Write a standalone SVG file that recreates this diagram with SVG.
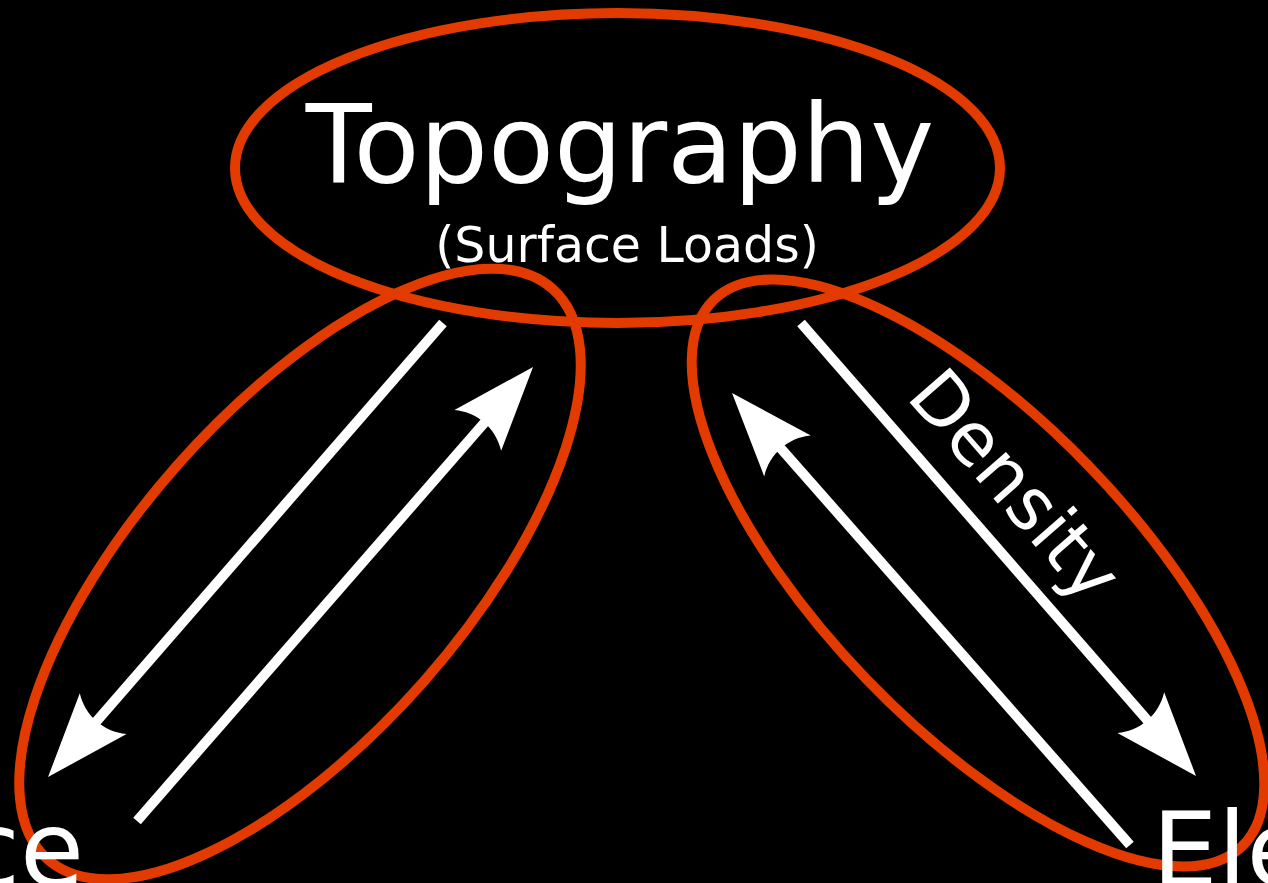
<svg xmlns="http://www.w3.org/2000/svg" width="1268" height="883" viewBox="0 0 1268 883">
<style>
.ring{fill:none;stroke:#e33a00;stroke-width:10}
.shaft{fill:none;stroke:#fff;stroke-width:10;stroke-linecap:butt;marker-end:url(#head)}
.t{fill:#fff;font-family:"DejaVu Sans","Noto Sans",sans-serif}
</style>
<defs>
<marker id="head" markerUnits="userSpaceOnUse" orient="auto" refX="0" refY="0" markerWidth="200" markerHeight="200" overflow="visible">
<path d="M72,0 L-12,-31 C1.5,-12.6 1.5,12.6 -12,31 Z" fill="#fff"/>
</marker>
</defs>
<rect width="1268" height="883" fill="#000"/>
<g id="connectors">
<line class="shaft" x1="443" y1="323" x2="95.3" y2="722.7"/>
<line class="shaft" x1="137" y1="821" x2="485.7" y2="421.3"/>
<line class="shaft" x1="801" y1="323" x2="1148.7" y2="721.7"/>
<line class="shaft" x1="1130" y1="845" x2="779.6" y2="447"/>
</g>
<g id="topography">
<ellipse class="ring" cx="617.5" cy="168" rx="382.5" ry="155"/>
<text class="t" x="620" y="182" font-size="108" text-anchor="middle">Topography</text>
<text class="t" x="627" y="262" font-size="49" text-anchor="middle">(Surface Loads)</text>
</g>
<g id="left-loop">
<ellipse class="ring" transform="translate(300,574) rotate(-48.5)" cx="0" cy="0" rx="381" ry="164"/>
</g>
<g id="right-loop">
<ellipse class="ring" transform="translate(978,573) rotate(46)" cx="0" cy="0" rx="380" ry="154"/>
<text class="t" transform="translate(905,397) rotate(48.9)" font-size="73">Density</text>
</g>
<g id="left-node">
<text class="t" x="84" y="886" font-size="104" text-anchor="end">ce</text>
</g>
<g id="right-node">
<text class="t" x="1152" y="886" font-size="104">Ele</text>
</g>
</svg>
